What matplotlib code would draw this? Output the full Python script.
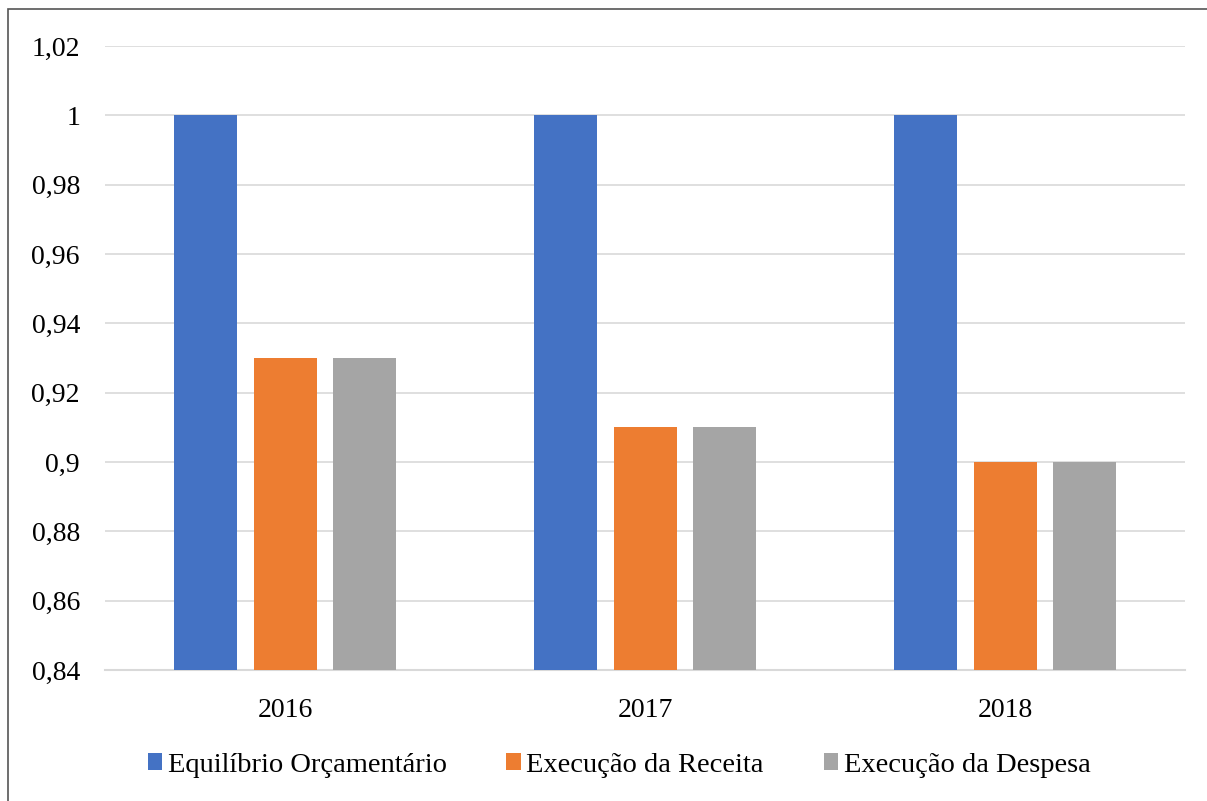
import numpy as np
import matplotlib.pyplot as plt
from matplotlib.patches import Rectangle

# dados do gráfico
anos = ['2016', '2017', '2018']
equilibrio = [1.00, 1.00, 1.00]
receita = [0.93, 0.91, 0.90]
despesa = [0.93, 0.91, 0.90]
series = ['Equilíbrio Orçamentário', 'Execução da Receita', 'Execução da Despesa']
cores = ['#4472c4', '#ed7d31', '#a5a5a5']
y_ticks = [0.84, 0.86, 0.88, 0.90, 0.92, 0.94, 0.96, 0.98, 1.00, 1.02]
y_labels = ['0,84', '0,86', '0,88', '0,9', '0,92', '0,94', '0,96', '0,98', '1', '1,02']

plt.rcParams['font.family'] = ['Liberation Serif', 'DejaVu Serif']

fig = plt.figure(figsize=(12.07, 8.01), dpi=100)
ax = fig.add_axes([105/1207, 1 - 670/801, 1080/1207, 624/801])

# moldura do gráfico
fig.patches.append(Rectangle((8/1207, -0.05), 1.2, 1 - 9/801 + 0.05,
                             transform=fig.transFigure, fill=False,
                             edgecolor='#555555', linewidth=1.2))

x = np.arange(len(anos))
w = 0.175
off = 0.222
for i, (vals, nome, cor) in enumerate(zip([equilibrio, receita, despesa], series, cores)):
    ax.bar(x + (i - 1) * off, vals, width=w, color=cor, label=nome, zorder=3)

ax.set_xlim(-0.5, 2.5)
ax.set_ylim(0.84, 1.02)
ax.set_yticks(y_ticks)
ax.set_yticklabels(y_labels)
ax.set_xticks(x)
ax.set_xticklabels(anos)
ax.tick_params(axis='y', length=0, pad=18, labelsize=20)
ax.tick_params(axis='x', length=0, pad=20, labelsize=20)
ax.grid(axis='y', color='#d9d9d9', linewidth=1.2, zorder=0)
for s in ['top', 'right', 'left']:
    ax.spines[s].set_visible(False)
ax.spines['bottom'].set_color('#d9d9d9')
ax.spines['bottom'].set_linewidth(1.5)

fig.legend(loc='center', bbox_to_anchor=(619/1207, 1 - 765/801), ncol=3,
           frameon=False, fontsize=20.5, handlelength=0.5, handleheight=0.5,
           handletextpad=0.2, columnspacing=2.1)

fig.savefig('out.png', dpi=100)
